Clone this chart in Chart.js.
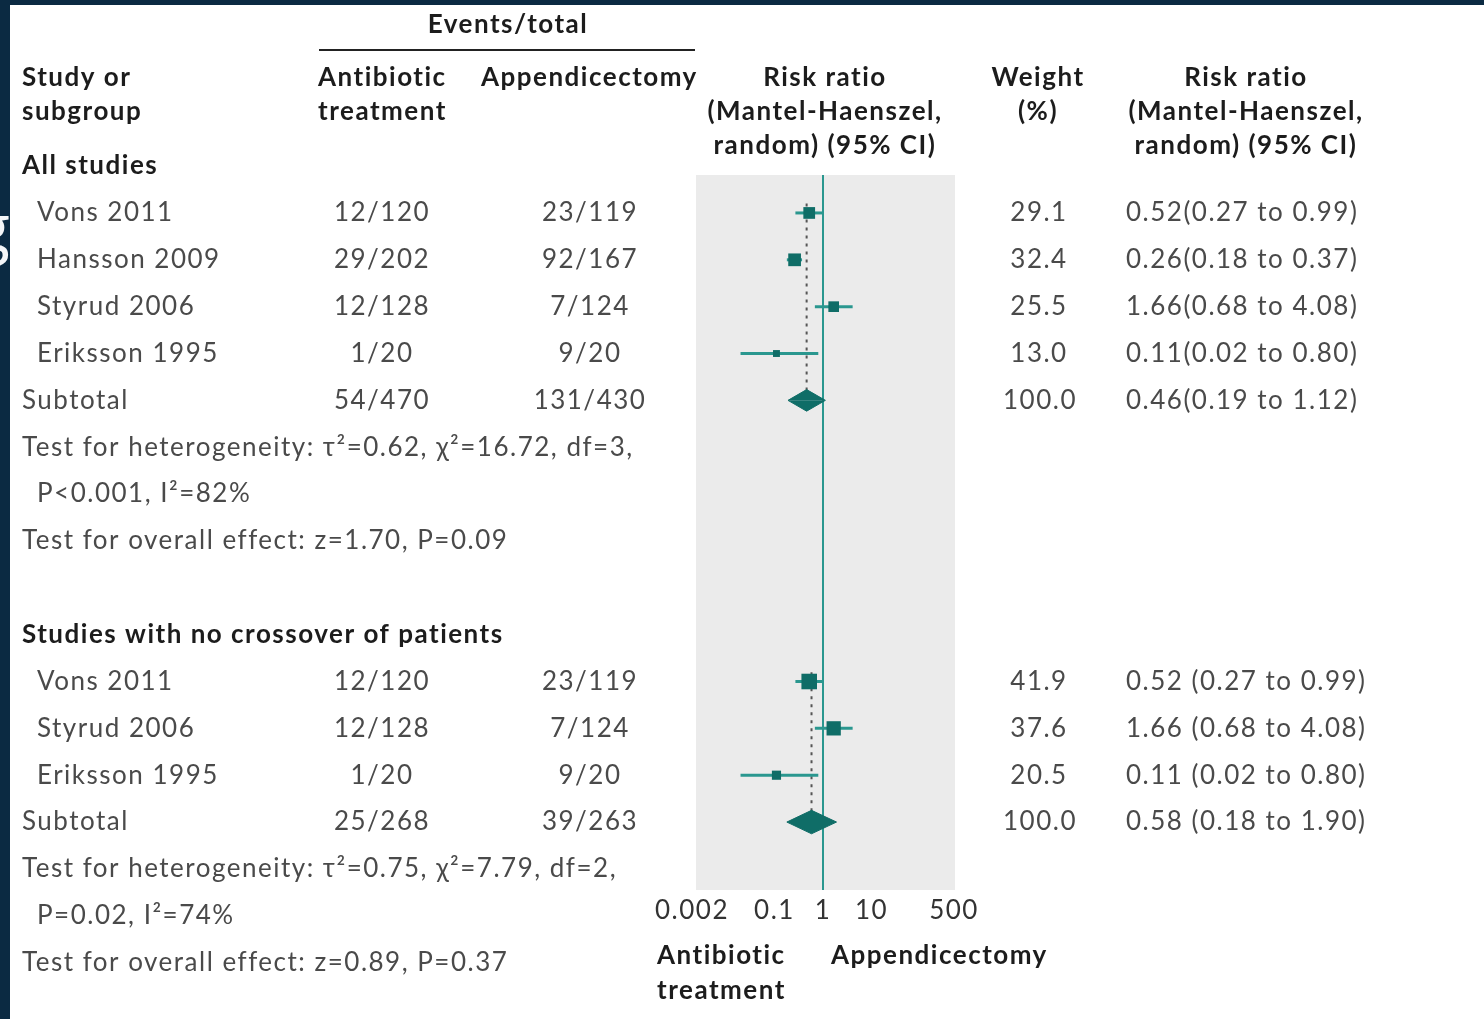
<!DOCTYPE html>
<html>
<head>
<meta charset="utf-8">
<script src="https://cdn.jsdelivr.net/npm/chart.js@4.4.1/dist/chart.umd.min.js"></script>
<style>
  html, body { margin: 0; padding: 0; background: #0b2a42; overflow: hidden; }
  #frame { position: absolute; left: 0; top: 0; width: 1484px; height: 1019px; }
  #g { position: absolute; left: -26px; top: 180px; font: 66px "Open Sans", sans-serif; color: #f4f6f8; }
  #panel { position: absolute; left: 10px; top: 5px; width: 1474px; height: 1014px; background: #fff; }
  #forest { position: absolute; left: 0; top: 0; }
</style>
</head>
<body>
<div id="frame">
  <div id="g">g</div>
  <div id="panel"></div>
  <canvas id="forest" width="1484" height="1019"></canvas>
</div>
<script>
// all studies
var studies1 = ["Vons 2011", "Hansson 2009", "Styrud 2006", "Eriksson 1995"];
var abx1 = ["12/120", "29/202", "12/128", "1/20"];
var appx1 = ["23/119", "92/167", "7/124", "9/20"];
var rr1 = [0.52, 0.26, 1.66, 0.11];
var lo1 = [0.27, 0.18, 0.68, 0.02];
var hi1 = [0.99, 0.37, 4.08, 0.80];
var weight1 = [29.1, 32.4, 25.5, 13.0];
var sub1 = { abx: "54/470", appx: "131/430", rr: 0.46, lo: 0.19, hi: 1.12, weight: 100.0 };
var het1 = ["Test for heterogeneity: \u03c4\u00b2=0.62, \u03c7\u00b2=16.72, df=3,", "P<0.001, I\u00b2=82%", "Test for overall effect: z=1.70, P=0.09"];

// studies with no crossover
var studies2 = ["Vons 2011", "Styrud 2006", "Eriksson 1995"];
var abx2 = ["12/120", "12/128", "1/20"];
var appx2 = ["23/119", "7/124", "9/20"];
var rr2 = [0.52, 1.66, 0.11];
var lo2 = [0.27, 0.68, 0.02];
var hi2 = [0.99, 4.08, 0.80];
var weight2 = [41.9, 37.6, 20.5];
var sub2 = { abx: "25/268", appx: "39/263", rr: 0.58, lo: 0.18, hi: 1.90, weight: 100.0 };
var het2 = ["Test for heterogeneity: \u03c4\u00b2=0.75, \u03c7\u00b2=7.79, df=2,", "P=0.02, I\u00b2=74%", "Test for overall effect: z=0.89, P=0.37"];

var tickValues = [0.002, 0.1, 1, 10, 500];
var tickLabels = ["0.002", "0.1", "1", "10", "500"];

// row numbers (0 = first study row)
var rows1 = [0, 1, 2, 3];
var subRow1 = 4;
var rows2 = [10, 11, 12];
var subRow2 = 13;

var TEAL = "#2a978f";
var DARK_TEAL = "#0f6d67";
var FONT = "Lato";
var SPACING = "1.5px";

function ciSets(rows, lo, hi) {
    return rows.map(function (r, i) {
        return {
            type: "line",
            data: [{ x: lo[i], y: r }, { x: hi[i], y: r }],
            borderColor: TEAL, borderWidth: 3, pointRadius: 0, order: 3
        };
    });
}

function diamond(sub, r, h) {
    var top = [{ x: sub.lo, y: r }, { x: sub.rr, y: r - h }, { x: sub.hi, y: r }];
    var bot = [{ x: sub.lo, y: r }, { x: sub.rr, y: r + h }, { x: sub.hi, y: r }];
    return [top, bot].map(function (pts) {
        return {
            type: "line", data: pts, borderColor: DARK_TEAL, borderWidth: 1,
            backgroundColor: DARK_TEAL, fill: { value: r }, pointRadius: 0, tension: 0, order: 1
        };
    });
}

function pooledLine(sub, firstRow, r) {
    return {
        type: "line",
        data: [{ x: sub.rr, y: firstRow - 0.2 }, { x: sub.rr, y: r }],
        borderColor: "#555", borderWidth: 2, borderDash: [3, 5], pointRadius: 0, order: 4
    };
}

function squares(rows, rr, w) {
    return {
        type: "scatter",
        data: rows.map(function (r, i) { return { x: rr[i], y: r }; }),
        pointStyle: "rect",
        pointRadius: w.map(function (v) { return (3 + v * 0.3) / Math.SQRT2; }),
        backgroundColor: DARK_TEAL, borderColor: DARK_TEAL, borderWidth: 0, order: 2
    };
}

var yMin = -0.81, yMax = 14.45;

var datasets = [
    { type: "line", data: [{ x: 1, y: yMin }, { x: 1, y: yMax }], borderColor: TEAL, borderWidth: 2, pointRadius: 0, order: 5 },
    pooledLine(sub1, rows1[0], subRow1),
    pooledLine(sub2, rows2[0], subRow2)
].concat(ciSets(rows1, lo1, hi1), ciSets(rows2, lo2, hi2),
    [squares(rows1, rr1, weight1), squares(rows2, rr2, weight2)],
    diamond(sub1, subRow1, 0.23), diamond(sub2, subRow2, 0.25));

var tablePlugin = {
    id: "table",
    beforeDraw: function (chart) {
        var a = chart.chartArea, ctx = chart.ctx;
        ctx.save();
        ctx.fillStyle = "#ebebeb";
        ctx.fillRect(a.left + 4, a.top, a.right - a.left - 3, a.bottom - a.top);
        ctx.restore();
        ctx.letterSpacing = SPACING; // also used by the tick labels
    },
    afterDraw: function (chart) {
        var ctx = chart.ctx, ys = chart.scales.y;
        function txt(s, x, y, align, bold, color) {
            ctx.font = (bold ? "bold " : "") + "26px " + FONT;
            ctx.fillStyle = color || (bold ? "#1c1c1c" : "#4a4a4a");
            ctx.textAlign = align;
            ctx.textBaseline = "middle";
            ctx.fillText(s, x, y);
        }
        ctx.save();
        ctx.letterSpacing = SPACING;
        // header
        txt("Events/total", 508, 25, "center", true);
        ctx.strokeStyle = "#222"; ctx.lineWidth = 2;
        ctx.beginPath(); ctx.moveTo(319, 50); ctx.lineTo(695, 50); ctx.stroke();
        txt("Study or", 22, 78, "left", true);
        txt("subgroup", 22, 112, "left", true);
        txt("Antibiotic", 318, 78, "left", true);
        txt("treatment", 318, 112, "left", true);
        txt("Appendicectomy", 481, 78, "left", true);
        ["Risk ratio", "(Mantel-Haenszel,", "random) (95% CI)"].forEach(function (s, i) {
            txt(s, 825, 78 + i * 34, "center", true);
            txt(s, 1246, 78 + i * 34, "center", true);
        });
        txt("Weight", 1038, 78, "center", true);
        txt("(%)", 1038, 112, "center", true);

        function group(title, titleRow, names, rows, abx, appx, rr, lo, hi, w, sub, subRow, het, sep) {
            txt(title, 22, ys.getPixelForValue(titleRow), "left", true);
            names.forEach(function (n, i) {
                var y = ys.getPixelForValue(rows[i]);
                txt(n, 37, y, "left");
                txt(abx[i], 382, y, "center");
                txt(appx[i], 590, y, "center");
                txt(w[i].toFixed(1), 1039, y, "center");
                txt(rr[i].toFixed(2) + sep + "(" + lo[i].toFixed(2) + " to " + hi[i].toFixed(2) + ")", 1126, y, "left");
            });
            var y = ys.getPixelForValue(subRow);
            txt("Subtotal", 22, y, "left");
            txt(sub.abx, 382, y, "center");
            txt(sub.appx, 590, y, "center");
            txt(sub.weight.toFixed(1), 1040, y, "center");
            txt(sub.rr.toFixed(2) + sep + "(" + sub.lo.toFixed(2) + " to " + sub.hi.toFixed(2) + ")", 1126, y, "left");
            txt(het[0], 22, ys.getPixelForValue(subRow + 1), "left");
            txt(het[1], 37, ys.getPixelForValue(subRow + 2), "left");
            txt(het[2], 22, ys.getPixelForValue(subRow + 3), "left");
        }
        group("All studies", -1.0, studies1, rows1, abx1, appx1, rr1, lo1, hi1, weight1, sub1, subRow1, het1, "");
        group("Studies with no crossover of patients", 9, studies2, rows2, abx2, appx2, rr2, lo2, hi2, weight2, sub2, subRow2, het2, " ");

        txt("Antibiotic", 657, 956, "left", true);
        txt("treatment", 657, 991, "left", true);
        txt("Appendicectomy", 831, 956, "left", true);
        ctx.restore();
    }
};

new Chart(document.getElementById("forest"), {
    data: { datasets: datasets },
    options: {
        responsive: false,
        animation: false,
        events: [],
        devicePixelRatio: 1,
        layout: { padding: { left: 692, right: 530, top: 175, bottom: 79 } },
        plugins: { legend: { display: false }, tooltip: { enabled: false } },
        scales: {
            x: {
                type: "logarithmic", min: 0.002, max: 500,
                grid: { display: false, drawTicks: false }, border: { display: false },
                afterBuildTicks: function (axis) {
                    axis.ticks = tickValues.map(function (v) { return { value: v }; });
                },
                afterFit: function (axis) { axis.height = 50; },
                ticks: {
                    autoSkip: false, maxRotation: 0, padding: 5, color: "#333",
                    font: { family: FONT, size: 26 },
                    callback: function (v, i) { return tickLabels[i]; }
                }
            },
            y: { type: "linear", min: yMin, max: yMax, reverse: true, display: false }
        }
    },
    plugins: [tablePlugin]
});
</script>
</body>
</html>
